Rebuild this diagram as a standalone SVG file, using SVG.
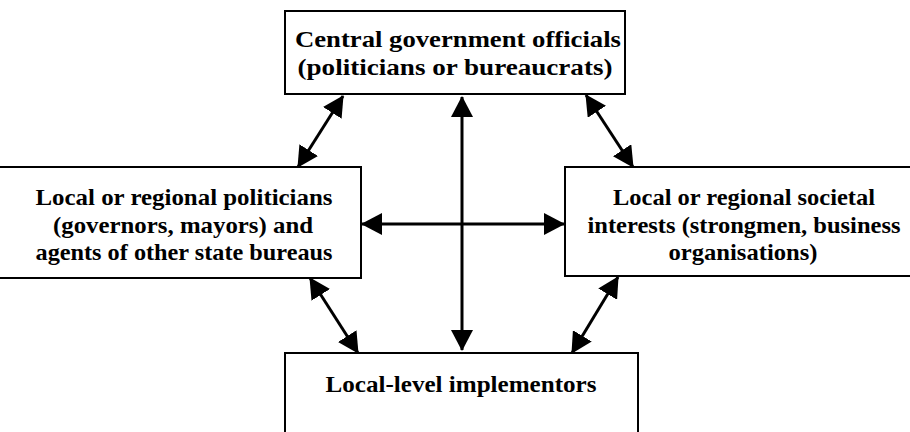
<svg xmlns="http://www.w3.org/2000/svg" width="910" height="432" viewBox="0 0 910 432">
  <style>
    .box { fill: #fff; stroke: #000; stroke-width: 2; }
    .lbl { font-weight: bold; font-size: 24px; fill: #000; text-anchor: middle; }
    .link { stroke: #000; stroke-width: 3; fill: none; marker-start: url(#head); marker-end: url(#head); }
  </style>
  <defs>
    <marker id="head" markerUnits="userSpaceOnUse" markerWidth="22" markerHeight="22" refX="20" refY="11" orient="auto-start-reverse">
      <path d="M0,0 L21,11 L0,22 Z" fill="#000"/>
    </marker>
  </defs>

  <rect width="910" height="432" fill="#fff"/>

  <g font-family="Liberation Serif, Times New Roman, Tinos, DejaVu Serif, serif">
    <g id="central">
      <rect class="box" x="285" y="11" width="340" height="83"/>
      <text class="lbl" x="458" y="47" textLength="326" lengthAdjust="spacingAndGlyphs">Central government officials</text>
      <text class="lbl" x="455" y="75" textLength="315" lengthAdjust="spacingAndGlyphs">(politicians or bureaucrats)</text>
    </g>

    <g id="regional-politicians">
      <rect class="box" x="-3" y="167" width="364" height="111"/>
      <text class="lbl" x="184" y="205" textLength="297" lengthAdjust="spacingAndGlyphs">Local or regional politicians</text>
      <text class="lbl" x="183" y="233" textLength="260" lengthAdjust="spacingAndGlyphs">(governors, mayors) and</text>
      <text class="lbl" x="184" y="260" textLength="297" lengthAdjust="spacingAndGlyphs">agents of other state bureaus</text>
    </g>

    <g id="societal-interests">
      <rect class="box" x="565" y="167" width="360" height="109"/>
      <text class="lbl" x="744" y="205" textLength="262" lengthAdjust="spacingAndGlyphs">Local or regional societal</text>
      <text class="lbl" x="744" y="233" textLength="313" lengthAdjust="spacingAndGlyphs">interests (strongmen, business</text>
      <text class="lbl" x="743" y="260" textLength="149" lengthAdjust="spacingAndGlyphs">organisations)</text>
    </g>

    <g id="implementors">
      <rect class="box" x="285" y="353" width="353" height="90"/>
      <text class="lbl" x="461" y="392" textLength="271" lengthAdjust="spacingAndGlyphs">Local-level implementors</text>
    </g>
  </g>

  <g id="connectors">
    <line class="link" x1="462" y1="97" x2="462" y2="350"/>
    <line class="link" x1="362" y1="224" x2="564" y2="224"/>
    <line class="link" x1="343" y1="96" x2="298" y2="167"/>
    <line class="link" x1="586" y1="95" x2="633" y2="167"/>
    <line class="link" x1="310" y1="278" x2="358" y2="353"/>
    <line class="link" x1="618" y1="277" x2="572" y2="353"/>
  </g>
</svg>
